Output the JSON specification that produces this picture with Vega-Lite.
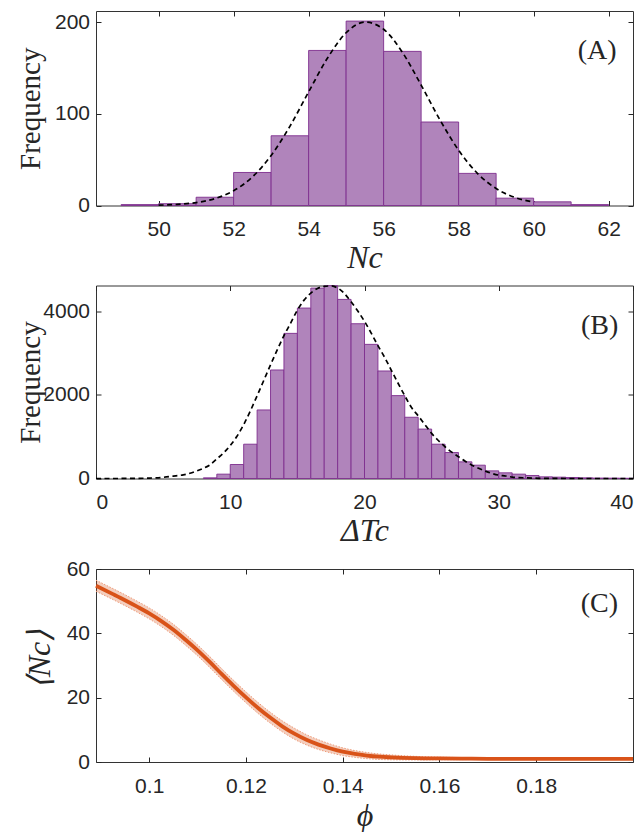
{
  "$schema": "https://vega.github.io/schema/vega-lite/v6.json",
  "padding": {"left": 15, "top": 10, "right": 0, "bottom": 0},
  "background": "white",
  "config": {
    "view": {"stroke": "#333333", "strokeWidth": 1},
    "axis": {
      "grid": false, "domain": false,
      "labelFont": "Liberation Sans", "labelFontSize": 21, "labelColor": "#262626",
      "tickColor": "#262626", "tickSize": -5, "tickWidth": 1,
      "titleFont": "Liberation Serif", "titleColor": "#262626", "titleFontWeight": "normal"
    },
    "axisBottom": {"labelPadding": 18, "labelBaseline": "top"},
    "axisLeft": {"labelPadding": 11.5}
  },
  "datasets": {
    "histA": [
      {"lo": 49, "hi": 50, "count": 1}, {"lo": 50, "hi": 51, "count": 2}, {"lo": 51, "hi": 52, "count": 9},
      {"lo": 52, "hi": 53, "count": 36}, {"lo": 53, "hi": 54, "count": 76}, {"lo": 54, "hi": 55, "count": 169},
      {"lo": 55, "hi": 56, "count": 201}, {"lo": 56, "hi": 57, "count": 168}, {"lo": 57, "hi": 58, "count": 91},
      {"lo": 58, "hi": 59, "count": 35}, {"lo": 59, "hi": 60, "count": 8}, {"lo": 60, "hi": 61, "count": 4},
      {"lo": 61, "hi": 62, "count": 1}
    ],
    "gaussA": [
      {"x": 50, "y": 0.4}, {"x": 50.5, "y": 1.2}, {"x": 51, "y": 3.2}, {"x": 51.5, "y": 7.5},
      {"x": 52, "y": 16.1}, {"x": 52.5, "y": 31.1}, {"x": 53, "y": 54.5}, {"x": 53.5, "y": 86.3},
      {"x": 54, "y": 123.8}, {"x": 54.5, "y": 160.5}, {"x": 55, "y": 188.3}, {"x": 55.5, "y": 199.9},
      {"x": 56, "y": 192.1}, {"x": 56.5, "y": 167}, {"x": 57, "y": 131.3}, {"x": 57.5, "y": 93.5},
      {"x": 58, "y": 60.2}, {"x": 58.5, "y": 35.1}, {"x": 59, "y": 18.5}, {"x": 59.5, "y": 8.8},
      {"x": 60, "y": 3.8}
    ],
    "histB": [
      {"lo": 8, "hi": 9, "count": 16}, {"lo": 9, "hi": 10, "count": 104}, {"lo": 10, "hi": 11, "count": 335},
      {"lo": 11, "hi": 12, "count": 821}, {"lo": 12, "hi": 13, "count": 1641}, {"lo": 13, "hi": 14, "count": 2598},
      {"lo": 14, "hi": 15, "count": 3474}, {"lo": 15, "hi": 16, "count": 4080}, {"lo": 16, "hi": 17, "count": 4558},
      {"lo": 17, "hi": 18, "count": 4615}, {"lo": 18, "hi": 19, "count": 4287}, {"lo": 19, "hi": 20, "count": 3705},
      {"lo": 20, "hi": 21, "count": 3211}, {"lo": 21, "hi": 22, "count": 2574}, {"lo": 22, "hi": 23, "count": 1984},
      {"lo": 23, "hi": 24, "count": 1466}, {"lo": 24, "hi": 25, "count": 1183}, {"lo": 25, "hi": 26, "count": 821},
      {"lo": 26, "hi": 27, "count": 622}, {"lo": 27, "hi": 28, "count": 399}, {"lo": 28, "hi": 29, "count": 319},
      {"lo": 29, "hi": 30, "count": 183}, {"lo": 30, "hi": 31, "count": 136}, {"lo": 31, "hi": 32, "count": 104},
      {"lo": 32, "hi": 33, "count": 72}, {"lo": 33, "hi": 34, "count": 40}, {"lo": 34, "hi": 35, "count": 32},
      {"lo": 35, "hi": 36, "count": 24}, {"lo": 36, "hi": 37, "count": 16}, {"lo": 37, "hi": 38, "count": 10},
      {"lo": 38, "hi": 39, "count": 8}, {"lo": 39, "hi": 40, "count": 5}
    ],
    "gaussB": [
      {"x": 0, "y": 0}, {"x": 1, "y": 0}, {"x": 2, "y": 1}, {"x": 3, "y": 3}, {"x": 4, "y": 10},
      {"x": 5, "y": 28}, {"x": 5.75, "y": 56}, {"x": 6.5, "y": 88}, {"x": 7, "y": 125}, {"x": 7.5, "y": 180},
      {"x": 8, "y": 245}, {"x": 8.5, "y": 330}, {"x": 9, "y": 470}, {"x": 9.5, "y": 610}, {"x": 10, "y": 790},
      {"x": 10.5, "y": 1010}, {"x": 11, "y": 1290}, {"x": 11.5, "y": 1620}, {"x": 12, "y": 1980},
      {"x": 12.5, "y": 2350}, {"x": 13, "y": 2720}, {"x": 13.5, "y": 3080}, {"x": 14, "y": 3420},
      {"x": 14.5, "y": 3720}, {"x": 15, "y": 4030}, {"x": 15.5, "y": 4270}, {"x": 16, "y": 4440},
      {"x": 16.5, "y": 4550}, {"x": 17, "y": 4600}, {"x": 17.5, "y": 4610}, {"x": 18, "y": 4560},
      {"x": 18.5, "y": 4430}, {"x": 19, "y": 4230}, {"x": 19.5, "y": 4010}, {"x": 20, "y": 3760},
      {"x": 20.5, "y": 3480}, {"x": 21, "y": 3180}, {"x": 21.5, "y": 2900}, {"x": 22, "y": 2590},
      {"x": 22.5, "y": 2280}, {"x": 23, "y": 1980}, {"x": 23.5, "y": 1700}, {"x": 24, "y": 1500},
      {"x": 24.5, "y": 1290}, {"x": 25, "y": 1080}, {"x": 25.5, "y": 910}, {"x": 26, "y": 760},
      {"x": 26.5, "y": 630}, {"x": 27, "y": 520}, {"x": 27.5, "y": 415}, {"x": 28, "y": 320},
      {"x": 28.5, "y": 245}, {"x": 29, "y": 178}, {"x": 29.5, "y": 120}, {"x": 30, "y": 80},
      {"x": 30.5, "y": 60}, {"x": 31, "y": 35}, {"x": 32, "y": 15}, {"x": 33, "y": 5}, {"x": 34, "y": 2},
      {"x": 36, "y": 0}, {"x": 40, "y": 0}
    ],
    "curveC": [
      {"phi": 0.089, "m": 54.8, "lo": 53.1, "hi": 56.5},
      {"phi": 0.0925, "m": 52.2, "lo": 50.5, "hi": 53.9},
      {"phi": 0.095, "m": 50.3, "lo": 48.6, "hi": 52.0},
      {"phi": 0.0975, "m": 48.3, "lo": 46.6, "hi": 50.0},
      {"phi": 0.1, "m": 46.2, "lo": 44.5, "hi": 47.9},
      {"phi": 0.1025, "m": 43.8, "lo": 42.1, "hi": 45.5},
      {"phi": 0.105, "m": 41.1, "lo": 39.4, "hi": 42.8},
      {"phi": 0.1075, "m": 38.0, "lo": 36.3, "hi": 39.7},
      {"phi": 0.11, "m": 34.7, "lo": 33.0, "hi": 36.4},
      {"phi": 0.1125, "m": 31.1, "lo": 29.4, "hi": 32.8},
      {"phi": 0.115, "m": 27.3, "lo": 25.6, "hi": 29.0},
      {"phi": 0.1175, "m": 23.6, "lo": 21.9, "hi": 25.3},
      {"phi": 0.12, "m": 20.1, "lo": 18.4, "hi": 21.8},
      {"phi": 0.1225, "m": 16.8, "lo": 15.1, "hi": 18.5},
      {"phi": 0.125, "m": 13.8, "lo": 12.1, "hi": 15.5},
      {"phi": 0.1275, "m": 11.1, "lo": 9.4, "hi": 12.8},
      {"phi": 0.13, "m": 8.8, "lo": 7.1, "hi": 10.5},
      {"phi": 0.1325, "m": 6.9, "lo": 5.3, "hi": 8.5},
      {"phi": 0.135, "m": 5.4, "lo": 3.9, "hi": 6.9},
      {"phi": 0.1375, "m": 4.2, "lo": 2.85, "hi": 5.55},
      {"phi": 0.14, "m": 3.2, "lo": 2.0, "hi": 4.4},
      {"phi": 0.1425, "m": 2.5, "lo": 1.45, "hi": 3.55},
      {"phi": 0.145, "m": 2.0, "lo": 1.05, "hi": 2.95},
      {"phi": 0.1475, "m": 1.65, "lo": 0.8, "hi": 2.5},
      {"phi": 0.15, "m": 1.45, "lo": 0.7, "hi": 2.2},
      {"phi": 0.155, "m": 1.2, "lo": 0.65, "hi": 1.75},
      {"phi": 0.16, "m": 1.1, "lo": 0.7, "hi": 1.5},
      {"phi": 0.165, "m": 1.05, "lo": 0.75, "hi": 1.35},
      {"phi": 0.17, "m": 1.0, "lo": 0.8, "hi": 1.2},
      {"phi": 0.18, "m": 1.0, "lo": 0.9, "hi": 1.1},
      {"phi": 0.19, "m": 1.0, "lo": 0.95, "hi": 1.05},
      {"phi": 0.2, "m": 1.0, "lo": 0.95, "hi": 1.05}
    ],
    "labelA": [{"label": "(A)"}],
    "labelB": [{"label": "(B)"}],
    "labelC": [{"label": "(C)"}]
  },
  "spacing": 10,
  "vconcat": [
    {
      "bounds": "flush",
      "spacing": 79.5,
      "vconcat": [
        {
          "width": 537, "height": 194.5,
          "layer": [
            {
              "data": {"name": "histA"},
              "mark": {"type": "rect", "fill": "#b084bb", "stroke": "#7e2f8e", "strokeWidth": 1, "strokeOpacity": 0.9},
              "encoding": {
                "x": {"field": "lo", "type": "quantitative",
                      "scale": {"domain": [48.33, 62.65], "nice": false, "zero": false},
                      "axis": {"orient": "bottom", "values": [50, 52, 54, 56, 58, 60, 62], "title": "Nc",
                               "titleFontStyle": "italic", "titleFontSize": 32, "titleY": 37, "titleBaseline": "top"}},
                "x2": {"field": "hi"},
                "y": {"field": "count", "type": "quantitative",
                      "scale": {"domain": [0, 212], "nice": false},
                      "axis": {"orient": "left", "values": [0, 100, 200], "title": "Frequency",
                               "titleFontSize": 29, "titleX": -80, "titleBaseline": "top"}},
                "y2": {"datum": 0}
              }
            },
            {
              "data": {"name": "gaussA"},
              "mark": {"type": "line", "color": "black", "strokeWidth": 1.7, "strokeDash": [5, 3.5], "interpolate": "monotone"},
              "encoding": {
                "x": {"field": "x", "type": "quantitative",
                      "axis": {"orient": "top", "labels": false, "title": null, "values": [50, 52, 54, 56, 58, 60, 62]}},
                "y": {"field": "y", "type": "quantitative",
                      "axis": {"orient": "right", "labels": false, "title": null, "values": [0, 100, 200]}}
              }
            },
            {
              "data": {"name": "labelA"},
              "mark": {"type": "text", "font": "Liberation Serif", "fontSize": 28, "color": "#262626", "align": "right", "baseline": "middle"},
              "encoding": {
                "x": {"datum": 62.21, "type": "quantitative", "axis": null},
                "y": {"datum": 168.5, "type": "quantitative", "axis": null},
                "text": {"field": "label"}
              }
            }
          ],
          "resolve": {"axis": {"x": "independent", "y": "independent"}}
        },
        {
          "width": 537, "height": 193,
          "layer": [
            {
              "data": {"name": "histB"},
              "mark": {"type": "rect", "fill": "#b084bb", "stroke": "#7e2f8e", "strokeWidth": 1, "strokeOpacity": 0.9},
              "encoding": {
                "x": {"field": "lo", "type": "quantitative",
                      "scale": {"domain": [0, 40], "nice": false, "zero": false},
                      "axis": {"orient": "bottom", "values": [0, 10, 20, 30, 40], "title": "ΔTc",
                               "titleFontStyle": "italic", "titleFontSize": 32, "titleY": 37, "titleBaseline": "top"}},
                "x2": {"field": "hi"},
                "y": {"field": "count", "type": "quantitative",
                      "scale": {"domain": [0, 4620], "nice": false},
                      "axis": {"orient": "left", "values": [0, 2000, 4000], "format": "d", "title": "Frequency",
                               "titleFontSize": 29, "titleX": -80, "titleBaseline": "top"}},
                "y2": {"datum": 0}
              }
            },
            {
              "data": {"name": "gaussB"},
              "mark": {"type": "line", "color": "black", "strokeWidth": 1.7, "strokeDash": [5, 3.5], "interpolate": "monotone"},
              "encoding": {
                "x": {"field": "x", "type": "quantitative",
                      "axis": {"orient": "top", "labels": false, "title": null, "values": [0, 10, 20, 30, 40]}},
                "y": {"field": "y", "type": "quantitative",
                      "axis": {"orient": "right", "labels": false, "title": null, "values": [0, 2000, 4000]}}
              }
            },
            {
              "data": {"name": "labelB"},
              "mark": {"type": "text", "font": "Liberation Serif", "fontSize": 28, "color": "#262626", "align": "right", "baseline": "middle"},
              "encoding": {
                "x": {"datum": 38.9, "type": "quantitative", "axis": null},
                "y": {"datum": 3639, "type": "quantitative", "axis": null},
                "text": {"field": "label"}
              }
            }
          ],
          "resolve": {"axis": {"x": "independent", "y": "independent"}}
        }
      ]
    },
    {
      "width": 537, "height": 193,
      "layer": [
        {
          "data": {"name": "curveC"},
          "mark": {"type": "area", "color": "#d95319", "opacity": 0.28, "interpolate": "monotone"},
          "encoding": {
            "x": {"field": "phi", "type": "quantitative",
                  "scale": {"domain": [0.089, 0.2], "nice": false, "zero": false},
                  "axis": {"orient": "top", "labels": false, "title": null, "values": [0.1, 0.12, 0.14, 0.16, 0.18]}},
            "y": {"field": "lo", "type": "quantitative",
                  "scale": {"domain": [0, 60], "nice": false},
                  "axis": {"orient": "right", "labels": false, "title": null, "values": [0, 20, 40, 60]}},
            "y2": {"field": "hi"}
          }
        },
        {
          "data": {"name": "curveC"},
          "mark": {"type": "line", "color": "#ee9a78", "strokeWidth": 1, "strokeDash": [1.5, 1.5], "interpolate": "monotone"},
          "encoding": {
            "x": {"field": "phi", "type": "quantitative", "axis": null},
            "y": {"field": "lo", "type": "quantitative", "axis": null}
          }
        },
        {
          "data": {"name": "curveC"},
          "mark": {"type": "line", "color": "#ee9a78", "strokeWidth": 1, "strokeDash": [1.5, 1.5], "interpolate": "monotone"},
          "encoding": {
            "x": {"field": "phi", "type": "quantitative", "axis": null},
            "y": {"field": "hi", "type": "quantitative", "axis": null}
          }
        },
        {
          "data": {"name": "curveC"},
          "mark": {"type": "line", "color": "#d95319", "strokeWidth": 3.8, "interpolate": "monotone"},
          "encoding": {
            "x": {"field": "phi", "type": "quantitative",
                  "axis": {"orient": "bottom", "values": [0.1, 0.12, 0.14, 0.16, 0.18], "format": "~g", "title": "ϕ",
                           "titleFontStyle": "italic", "titleFontSize": 32, "titleY": 38, "titleBaseline": "top"}},
            "y": {"field": "m", "type": "quantitative",
                  "axis": {"orient": "left", "values": [0, 20, 40, 60], "title": "⟨Nc⟩", "titleFontStyle": "italic",
                           "titleFontSize": 32, "titleX": -71.6, "titleY": 90, "titleBaseline": "top"}}
          }
        },
        {
          "data": {"name": "labelC"},
          "mark": {"type": "text", "font": "Liberation Serif", "fontSize": 28, "color": "#262626", "align": "right", "baseline": "middle"},
          "encoding": {
            "x": {"datum": 0.1969, "type": "quantitative", "axis": null},
            "y": {"datum": 49.1, "type": "quantitative", "axis": null},
            "text": {"field": "label"}
          }
        }
      ],
      "resolve": {"axis": {"x": "independent", "y": "independent"}}
    }
  ]
}
